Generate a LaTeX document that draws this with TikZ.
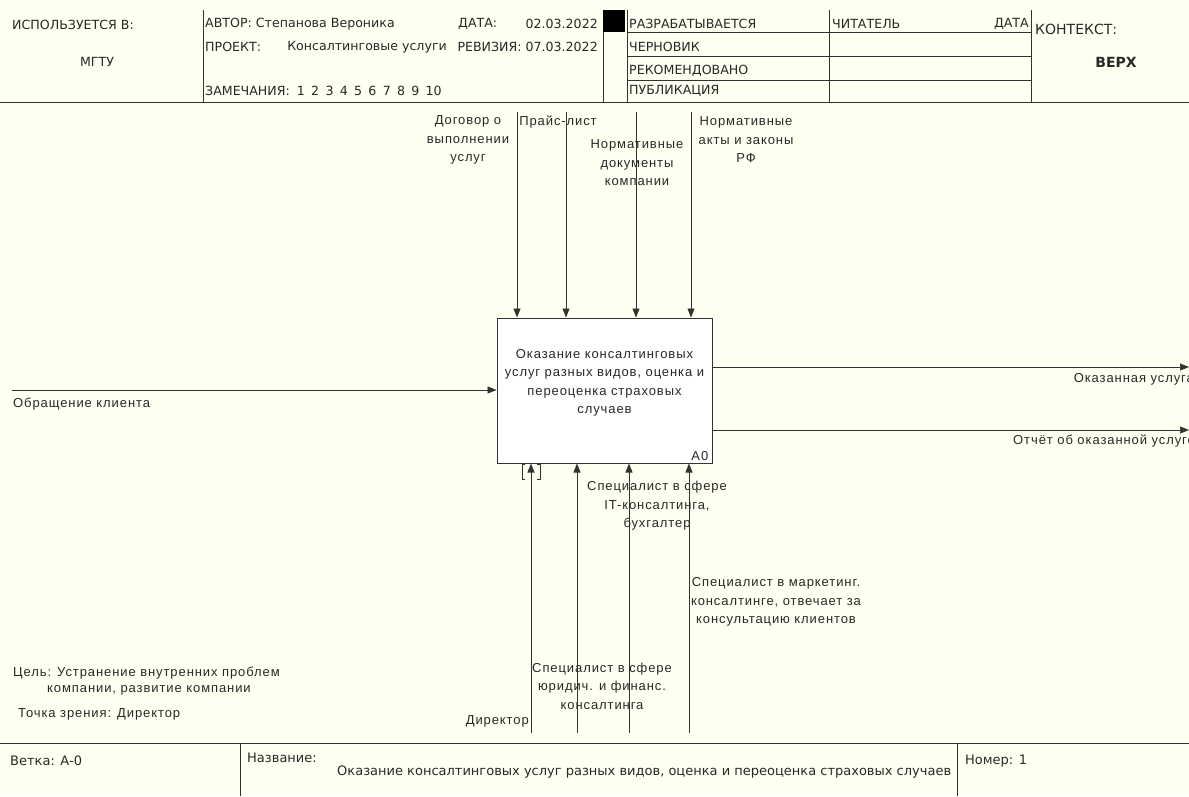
\documentclass[tikz,border=0pt]{standalone}
\usepackage{fontspec}
\setmainfont{Liberation Sans}
\newfontfamily\hdr{DejaVu Sans}
\newfontfamily\dgm[LetterSpace=7]{Liberation Sans}
\usetikzlibrary{arrows.meta}
\definecolor{bgc}{RGB}{255,255,242}
\definecolor{lnc}{RGB}{50,50,50}
\definecolor{txc}{RGB}{40,40,40}
\begin{document}
\begin{tikzpicture}[x=1pt,y=-1pt,
  frame/.style={draw=lnc,line width=0.9pt},
  arr/.style={draw=lnc,line width=0.7pt,-{Triangle[length=9pt,width=7pt]}},
  htxt/.style={inner sep=0pt,text=txc,font=\hdr\fontsize{12.6}{15}\selectfont},
  ftxt/.style={inner sep=0pt,text=txc,font=\hdr\fontsize{13}{15}\selectfont},
  dtxt/.style={inner sep=0pt,text=txc,align=center,font=\dgm\fontsize{13}{18.5}\selectfont},
  box/.style={draw=lnc,line width=1pt,fill=white,minimum width=215pt,minimum height=145pt,inner sep=0pt}]
\useasboundingbox (0,0) rectangle (1189,796);
\fill[bgc] (0,0) rectangle (1189,796);
% header frame
\draw[frame] (0,102) -- (1189,102);
\draw[frame] (203,10) -- (203,102);
\draw[frame] (603,10) -- (603,102);
\draw[frame] (627,10) -- (627,102);
\draw[frame] (829,10) -- (829,102);
\draw[frame] (1031,10) -- (1031,102);
\draw[frame] (627,32) -- (1031,32);
\draw[frame] (627,56) -- (1031,56);
\draw[frame] (627,80) -- (1031,80);
\fill[black] (603,10) rectangle (625,32);
% header texts
\node[htxt,anchor=west] (used) at (12,25) {ИСПОЛЬЗУЕТСЯ В:};
\node[htxt] (mgtu) at (97,62) {МГТУ};
\node[htxt,anchor=west] (author) at (205,24) {АВТОР: Степанова Вероника};
\node[htxt,anchor=west] (proj) at (205,47) {ПРОЕКТ:};
\node[htxt,anchor=east] (projn) at (447,47) {Консалтинговые услуги};
\node[htxt,anchor=west] (notes) at (205,91) {ЗАМЕЧАНИЯ:\hspace{7pt}1\hspace{6.3pt}2\hspace{6.3pt}3\hspace{6.3pt}4\hspace{6.3pt}5\hspace{6.3pt}6\hspace{6.3pt}7\hspace{6.3pt}8\hspace{6.3pt}9\hspace{6.3pt}10};
\node[htxt,anchor=west] (date) at (458,24) {ДАТА:};
\node[htxt,anchor=east] (dateval) at (598,24) {02.03.2022};
\node[htxt,anchor=east] (rev) at (598,47) {РЕВИЗИЯ: 07.03.2022};
\node[htxt,anchor=west] (s1) at (629,24) {РАЗРАБАТЫВАЕТСЯ};
\node[htxt,anchor=west] (s2) at (629,47) {ЧЕРНОВИК};
\node[htxt,anchor=west] (s3) at (629,71) {РЕКОМЕНДОВАНО};
\node[htxt,anchor=west] (s4) at (629,91) {ПУБЛИКАЦИЯ};
\node[htxt,anchor=west] (reader) at (832,24) {ЧИТАТЕЛЬ};
\node[htxt,anchor=east] (rdate) at (1029,24) {ДАТА};
\node[htxt,anchor=west,font=\hdr\fontsize{14}{16}\selectfont] (ctx) at (1035,29) {КОНТЕКСТ:};
\node[htxt,font=\hdr\bfseries\fontsize{14}{16}\selectfont] (top) at (1116,62) {ВЕРХ};
% main box
\node[box] (A0) at (604.5,390.5) {};
\node[dtxt] (A0t) at (604.5,383) {Оказание консалтинговых\\услуг разных видов, оценка и\\переоценка страховых\\случаев};
\node[dtxt,anchor=south east] (A0n) at ([xshift=-4pt,yshift=3pt]A0.south east) {A0};
% controls
\coordinate (c1) at (517,112);
\coordinate (c2) at (566,112);
\coordinate (c3) at (636,112);
\coordinate (c4) at (691,112);
\draw[arr] (c1) -- (c1 |- A0.north);
\draw[arr] (c2) -- (c2 |- A0.north);
\draw[arr] (c3) -- (c3 |- A0.north);
\draw[arr] (c4) -- (c4 |- A0.north);
\node[dtxt] (lc1) at (468,140) {Договор о\\выполнении\\услуг};
\node[dtxt] (lc2) at (558,122) {Прайс-лист};
\node[dtxt] (lc3) at (637,163) {Нормативные\\документы\\компании};
\node[dtxt] (lc4) at (746,140) {Нормативные\\акты и законы\\РФ};
% input
\coordinate (i1) at (12,390);
\draw[arr] (i1) -- (i1 -| A0.west);
\node[dtxt,anchor=west] (li1) at (13,404) {Обращение клиента};
% outputs
\coordinate (o1) at (1189,367);
\coordinate (o2) at (1189,430);
\draw[arr] (o1 -| A0.east) -- (o1);
\draw[arr] (o2 -| A0.east) -- (o2);
\node[dtxt,anchor=east] (lo1) at (1194,379) {Оказанная услуга};
\node[dtxt,anchor=east] (lo2) at (1195,441) {Отчёт об оказанной услуге};
% mechanisms
\coordinate (m1) at (531,733);
\coordinate (m2) at (577,733);
\coordinate (m3) at (629,733);
\coordinate (m4) at (689,733);
\draw[arr] (m1) -- (m1 |- A0.south);
\draw[arr] (m2) -- (m2 |- A0.south);
\draw[arr] (m3) -- (m3 |- A0.south);
\draw[arr] (m4) -- (m4 |- A0.south);
\draw[draw=lnc,line width=0.7pt] (525,464) -- (522,464) -- (522,479) -- (525,479);
\draw[draw=lnc,line width=0.7pt] (537,464) -- (540,464) -- (540,479) -- (537,479);
\node[dtxt,anchor=east] (lm1) at (529,721) {Директор};
\node[dtxt] (lm2) at (602,686) {Специалист в сфере\\юридич. и финанс.\\консалтинга};
\node[dtxt] (lm3) at (657,506) {Специалист в сфере\\IT-консалтинга,\\бухгалтер};
\node[dtxt] (lm4) at (776,602) {Специалист в маркетинг.\\консалтинге, отвечает за\\консультацию клиентов};
% notes
\node[dtxt,anchor=west] (goal1) at (13,673) {Цель: Устранение внутренних проблем};
\node[dtxt,anchor=west] (goal2) at (47,690) {компании, развитие компании};
\node[dtxt,anchor=west] (view) at (18,714) {Точка зрения: Директор};
% footer
\draw[frame] (0,743) -- (1189,743);
\draw[frame] (240,743) -- (240,796);
\draw[frame] (957,743) -- (957,796);
\node[ftxt,anchor=west] (branch) at (10,761) {Ветка: А-0};
\node[ftxt,anchor=west] (title) at (247,758) {Название:};
\node[ftxt,anchor=west] (titlev) at (337,772) {Оказание консалтинговых услуг разных видов, оценка и переоценка страховых случаев};
\node[ftxt,anchor=west] (num) at (965,761) {Номер: 1};
\end{tikzpicture}
\end{document}
